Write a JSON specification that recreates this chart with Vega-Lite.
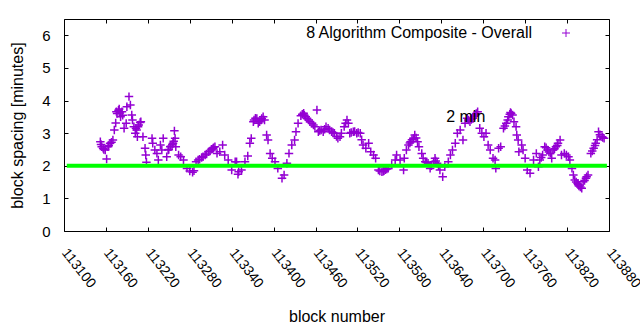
{
  "$schema": "https://vega.github.io/schema/vega-lite/v6.json",
  "autosize": {"type": "none"},
  "width": 545,
  "height": 212,
  "padding": {"left": 64, "top": 19, "right": 31, "bottom": 99},
  "background": "white",
  "config": {
    "font": "Liberation Sans",
    "view": {"stroke": "black", "strokeWidth": 1},
    "axis": {"grid": false, "domain": false, "tickColor": "black", "tickSize": -4, "tickWidth": 1, "labelColor": "black", "titleColor": "black", "labelFont": "Liberation Sans", "titleFont": "Liberation Sans", "titleFontWeight": "normal", "labelFontSize": 14, "titleFontSize": 16}
  },
  "datasets": {
    "blocks": [
      {"block":113152,"spacing":2.74},{"block":113153,"spacing":2.65},{"block":113154,"spacing":2.58},{"block":113156,"spacing":2.54},{"block":113157,"spacing":2.5},{"block":113159,"spacing":2.48},{"block":113161,"spacing":2.21},{"block":113163,"spacing":2.58},{"block":113164,"spacing":2.62},{"block":113166,"spacing":2.69},{"block":113168,"spacing":2.72},{"block":113170,"spacing":2.79},{"block":113172,"spacing":3.10},{"block":113174,"spacing":3.31},{"block":113175,"spacing":3.66},{"block":113176,"spacing":3.6},{"block":113178,"spacing":3.7},{"block":113179,"spacing":3.74},{"block":113180,"spacing":3.62},{"block":113181,"spacing":3.50},{"block":113183,"spacing":3.66},{"block":113184,"spacing":3.55},{"block":113186,"spacing":3.15},{"block":113189,"spacing":3.30},{"block":113190,"spacing":3.81},{"block":113193,"spacing":4.12},{"block":113195,"spacing":3.86},{"block":113197,"spacing":3.56},{"block":113198,"spacing":3.40},{"block":113200,"spacing":3.2},{"block":113202,"spacing":3.00},{"block":113203,"spacing":3.15},{"block":113204,"spacing":3.10},{"block":113205,"spacing":2.89},{"block":113206,"spacing":3.20},{"block":113207,"spacing":3.25},{"block":113209,"spacing":3.33},{"block":113210,"spacing":3.35},{"block":113213,"spacing":2.89},{"block":113216,"spacing":2.54},{"block":113217,"spacing":2.33},{"block":113218,"spacing":2.11},{"block":113226,"spacing":2.84},{"block":113227,"spacing":2.69},{"block":113230,"spacing":2.48},{"block":113233,"spacing":2.38},{"block":113235,"spacing":2.18},{"block":113238,"spacing":2.64},{"block":113240,"spacing":2.48},{"block":113242,"spacing":2.84},{"block":113247,"spacing":2.28},{"block":113249,"spacing":2.48},{"block":113250,"spacing":2.5},{"block":113252,"spacing":2.58},{"block":113253,"spacing":2.6},{"block":113255,"spacing":2.65},{"block":113256,"spacing":2.69},{"block":113257,"spacing":2.75},{"block":113258,"spacing":3.07},{"block":113259,"spacing":2.84},{"block":113260,"spacing":2.58},{"block":113264,"spacing":2.33},{"block":113267,"spacing":2.28},{"block":113271,"spacing":2.18},{"block":113276,"spacing":1.92},{"block":113280,"spacing":1.84},{"block":113284,"spacing":1.80},{"block":113286,"spacing":1.85},{"block":113289,"spacing":2.12},{"block":113292,"spacing":2.18},{"block":113294,"spacing":2.2},{"block":113297,"spacing":2.25},{"block":113299,"spacing":2.28},{"block":113302,"spacing":2.33},{"block":113304,"spacing":2.36},{"block":113307,"spacing":2.43},{"block":113309,"spacing":2.45},{"block":113311,"spacing":2.51},{"block":113313,"spacing":2.52},{"block":113314,"spacing":2.55},{"block":113316,"spacing":2.58},{"block":113319,"spacing":2.38},{"block":113323,"spacing":2.43},{"block":113327,"spacing":2.64},{"block":113330,"spacing":2.33},{"block":113335,"spacing":2.18},{"block":113340,"spacing":1.87},{"block":113345,"spacing":2.12},{"block":113347,"spacing":2.12},{"block":113349,"spacing":1.74},{"block":113350,"spacing":1.82},{"block":113354,"spacing":1.87},{"block":113359,"spacing":2.12},{"block":113363,"spacing":2.30},{"block":113366,"spacing":2.69},{"block":113368,"spacing":2.84},{"block":113371,"spacing":3.35},{"block":113372,"spacing":3.4},{"block":113374,"spacing":3.46},{"block":113376,"spacing":3.45},{"block":113378,"spacing":3.30},{"block":113380,"spacing":3.35},{"block":113382,"spacing":3.40},{"block":113383,"spacing":3.45},{"block":113385,"spacing":3.50},{"block":113387,"spacing":3.4},{"block":113390,"spacing":2.94},{"block":113392,"spacing":2.79},{"block":113395,"spacing":2.38},{"block":113398,"spacing":2.23},{"block":113402,"spacing":2.12},{"block":113406,"spacing":1.92},{"block":113412,"spacing":1.62},{"block":113415,"spacing":1.72},{"block":113419,"spacing":2.08},{"block":113422,"spacing":2.38},{"block":113426,"spacing":2.64},{"block":113430,"spacing":2.79},{"block":113432,"spacing":3.04},{"block":113435,"spacing":3.30},{"block":113439,"spacing":3.53},{"block":113441,"spacing":3.58},{"block":113443,"spacing":3.61},{"block":113444,"spacing":3.55},{"block":113446,"spacing":3.50},{"block":113448,"spacing":3.45},{"block":113450,"spacing":3.40},{"block":113452,"spacing":3.35},{"block":113455,"spacing":3.30},{"block":113457,"spacing":3.25},{"block":113459,"spacing":3.20},{"block":113462,"spacing":3.71},{"block":113464,"spacing":3.04},{"block":113466,"spacing":3.08},{"block":113468,"spacing":3.10},{"block":113471,"spacing":3.04},{"block":113473,"spacing":3.12},{"block":113475,"spacing":3.20},{"block":113478,"spacing":3.15},{"block":113480,"spacing":3.1},{"block":113483,"spacing":3.04},{"block":113485,"spacing":3.02},{"block":113487,"spacing":3.00},{"block":113490,"spacing":2.9},{"block":113492,"spacing":2.84},{"block":113495,"spacing":2.89},{"block":113497,"spacing":3.00},{"block":113501,"spacing":3.20},{"block":113503,"spacing":3.3},{"block":113505,"spacing":3.40},{"block":113507,"spacing":3.30},{"block":113509,"spacing":3.00},{"block":113511,"spacing":3.02},{"block":113514,"spacing":3.04},{"block":113516,"spacing":3.05},{"block":113519,"spacing":3.00},{"block":113521,"spacing":3.02},{"block":113524,"spacing":3.00},{"block":113526,"spacing":2.8},{"block":113528,"spacing":2.64},{"block":113532,"spacing":2.54},{"block":113536,"spacing":2.69},{"block":113539,"spacing":2.43},{"block":113543,"spacing":2.33},{"block":113546,"spacing":2.23},{"block":113550,"spacing":1.87},{"block":113552,"spacing":1.84},{"block":113555,"spacing":1.82},{"block":113557,"spacing":1.83},{"block":113558,"spacing":1.85},{"block":113560,"spacing":1.88},{"block":113562,"spacing":1.9},{"block":113564,"spacing":1.92},{"block":113569,"spacing":2.02},{"block":113574,"spacing":2.18},{"block":113576,"spacing":2.33},{"block":113581,"spacing":2.18},{"block":113586,"spacing":1.87},{"block":113587,"spacing":2.23},{"block":113590,"spacing":2.48},{"block":113593,"spacing":2.64},{"block":113595,"spacing":2.7},{"block":113596,"spacing":2.74},{"block":113598,"spacing":2.8},{"block":113600,"spacing":2.84},{"block":113602,"spacing":2.94},{"block":113604,"spacing":2.85},{"block":113606,"spacing":2.74},{"block":113608,"spacing":2.58},{"block":113612,"spacing":2.38},{"block":113614,"spacing":2.23},{"block":113617,"spacing":2.12},{"block":113619,"spacing":2.1},{"block":113621,"spacing":2.08},{"block":113624,"spacing":1.92},{"block":113626,"spacing":2.0},{"block":113629,"spacing":2.12},{"block":113631,"spacing":2.23},{"block":113632,"spacing":2.15},{"block":113634,"spacing":2.08},{"block":113636,"spacing":2.0},{"block":113638,"spacing":1.87},{"block":113642,"spacing":1.66},{"block":113645,"spacing":1.97},{"block":113650,"spacing":2.12},{"block":113653,"spacing":2.33},{"block":113656,"spacing":2.48},{"block":113660,"spacing":2.69},{"block":113663,"spacing":3.00},{"block":113667,"spacing":3.10},{"block":113671,"spacing":2.79},{"block":113674,"spacing":3.30},{"block":113677,"spacing":3.46},{"block":113679,"spacing":3.4},{"block":113681,"spacing":3.35},{"block":113683,"spacing":3.42},{"block":113685,"spacing":3.46},{"block":113687,"spacing":3.52},{"block":113688,"spacing":3.56},{"block":113690,"spacing":3.6},{"block":113692,"spacing":3.66},{"block":113695,"spacing":3.15},{"block":113698,"spacing":3.00},{"block":113701,"spacing":2.89},{"block":113704,"spacing":3.00},{"block":113707,"spacing":2.64},{"block":113710,"spacing":2.48},{"block":113714,"spacing":2.23},{"block":113717,"spacing":2.18},{"block":113718,"spacing":1.92},{"block":113722,"spacing":2.54},{"block":113725,"spacing":2.58},{"block":113729,"spacing":3.15},{"block":113731,"spacing":3.22},{"block":113733,"spacing":3.30},{"block":113735,"spacing":3.4},{"block":113736,"spacing":3.50},{"block":113738,"spacing":3.58},{"block":113739,"spacing":3.63},{"block":113740,"spacing":3.6},{"block":113742,"spacing":3.56},{"block":113744,"spacing":3.35},{"block":113747,"spacing":3.20},{"block":113748,"spacing":2.94},{"block":113750,"spacing":2.79},{"block":113751,"spacing":2.43},{"block":113755,"spacing":2.64},{"block":113757,"spacing":2.48},{"block":113760,"spacing":2.23},{"block":113763,"spacing":1.87},{"block":113767,"spacing":1.77},{"block":113772,"spacing":2.18},{"block":113776,"spacing":2.38},{"block":113779,"spacing":1.97},{"block":113781,"spacing":2.18},{"block":113783,"spacing":2.25},{"block":113785,"spacing":2.33},{"block":113788,"spacing":2.58},{"block":113790,"spacing":2.55},{"block":113792,"spacing":2.48},{"block":113794,"spacing":2.42},{"block":113796,"spacing":2.38},{"block":113798,"spacing":2.23},{"block":113800,"spacing":2.48},{"block":113802,"spacing":2.52},{"block":113804,"spacing":2.58},{"block":113806,"spacing":2.62},{"block":113807,"spacing":2.69},{"block":113810,"spacing":2.79},{"block":113812,"spacing":2.33},{"block":113816,"spacing":2.38},{"block":113819,"spacing":2.33},{"block":113822,"spacing":2.28},{"block":113824,"spacing":2.18},{"block":113827,"spacing":1.92},{"block":113829,"spacing":1.72},{"block":113831,"spacing":1.56},{"block":113833,"spacing":1.5},{"block":113835,"spacing":1.46},{"block":113836,"spacing":1.42},{"block":113837,"spacing":1.38},{"block":113839,"spacing":1.35},{"block":113841,"spacing":1.31},{"block":113843,"spacing":1.51},{"block":113845,"spacing":1.55},{"block":113847,"spacing":1.62},{"block":113848,"spacing":1.66},{"block":113850,"spacing":1.72},{"block":113854,"spacing":2.38},{"block":113856,"spacing":2.45},{"block":113858,"spacing":2.54},{"block":113860,"spacing":2.62},{"block":113861,"spacing":2.69},{"block":113863,"spacing":2.8},{"block":113865,"spacing":3.04},{"block":113867,"spacing":2.95},{"block":113870,"spacing":2.89},{"block":113871,"spacing":2.87},{"block":113873,"spacing":2.84}
    ],
    "target": [{"start": 113104, "end": 113877, "minutes": 2}],
    "notes": [{"block": 113647, "spacing": 3.5, "note": "2 min"}]
  },
  "resolve": {"axis": {"x": "independent", "y": "independent"}},
  "layer": [
    {
      "data": {"name": "blocks"},
      "mark": {"type": "point", "shape": "M-1,0H1M0,-1V1", "filled": false, "size": 72, "strokeWidth": 1.5, "opacity": 1},
      "encoding": {
        "x": {"field": "block", "type": "quantitative", "scale": {"domain": [113100, 113880], "nice": false, "zero": false},
          "axis": {"orient": "bottom", "values": [113100,113160,113220,113280,113340,113400,113460,113520,113580,113640,113700,113760,113820,113880], "format": "d", "labelAngle": 52, "labelAlign": "left", "labelBaseline": "middle", "labelPadding": 23, "labelFlush": false, "labelOverlap": false, "labelBound": false, "title": "block number", "titleY": 85, "titleBaseline": "middle"}},
        "y": {"field": "spacing", "type": "quantitative", "scale": {"domain": [0, 6.5], "nice": false},
          "axis": {"orient": "left", "values": [0,1,2,3,4,5,6], "labelPadding": 18, "labelFontSize": 15, "title": "block spacing [minutes]", "titleX": -47, "titleY": 106, "titleAngle": -90, "titleBaseline": "middle", "titleAlign": "center"}},
        "color": {"datum": "8 Algorithm Composite - Overall", "type": "nominal", "scale": {"range": ["#9400D3"]},
          "legend": {"title": null, "orient": "none", "legendX": 494, "legendY": 6, "padding": 0, "labelAlign": "right", "labelOffset": -42, "labelFontSize": 16, "labelFont": "Liberation Sans", "labelColor": "black", "labelLimit": 400, "symbolType": "M-1,0H1M0,-1V1", "symbolSize": 64, "symbolStrokeWidth": 1, "symbolStrokeColor": "#9400D3", "symbolFillColor": "transparent", "symbolOffset": 0}}
      }
    },
    {
      "data": {"name": "target"},
      "mark": {"type": "rule", "color": "#00FF00", "strokeWidth": 4},
      "encoding": {
        "x": {"field": "start", "type": "quantitative", "axis": {"orient": "top", "values": [113100,113160,113220,113280,113340,113400,113460,113520,113580,113640,113700,113760,113820,113880], "labels": false, "title": null}},
        "x2": {"field": "end"},
        "y": {"field": "minutes", "type": "quantitative", "axis": {"orient": "right", "values": [0,1,2,3,4,5,6], "labels": false, "title": null}}
      }
    },
    {
      "data": {"name": "notes"},
      "mark": {"type": "text", "align": "left", "baseline": "middle", "fontSize": 16, "font": "Liberation Sans", "color": "black"},
      "encoding": {
        "x": {"field": "block", "type": "quantitative", "axis": null},
        "y": {"field": "spacing", "type": "quantitative", "axis": null},
        "text": {"field": "note"}
      }
    }
  ]
}
